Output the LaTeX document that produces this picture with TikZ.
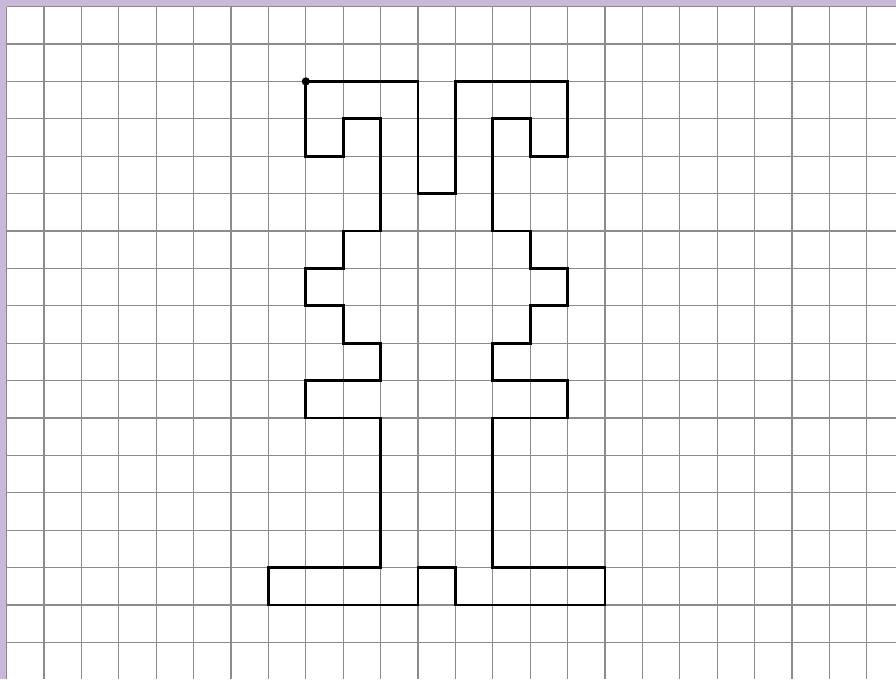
\documentclass[tikz,border=0pt]{standalone}
\definecolor{frame}{HTML}{C8B9D9}
\tikzset{
  gridline/.style={draw=black!45, line width=0.9pt},
  figure/.style={draw=black, line width=2.1pt, line join=miter},
}
\begin{document}
\begin{tikzpicture}[x=1cm,y=-1cm]
  \useasboundingbox (-0.1765,-0.1765) rectangle (23.78,17.978);
  \fill[frame] (-0.1765,-0.1765) rectangle (23.78,17.978);
  \fill[white] (0,0) rectangle (23.78,17.978);
  \foreach \i in {0,...,23} \draw[gridline] (\i,0) -- (\i,17.978);
  \foreach \j in {0,...,17} \draw[gridline] (0,\j) -- (23.78,\j);
  \coordinate (start) at (8,2);
  \draw[figure] (start) -- (11,2) -- (11,5) -- (12,5) -- (12,2) -- (15,2) -- (15,4) -- (14,4) -- (14,3) -- (13,3)
    -- (13,6) -- (14,6) -- (14,7) -- (15,7) -- (15,8) -- (14,8) -- (14,9) -- (13,9) -- (13,10) -- (15,10)
    -- (15,11) -- (13,11) -- (13,15) -- (16,15) -- (16,16) -- (12,16) -- (12,15) -- (11,15) -- (11,16)
    -- (7,16) -- (7,15) -- (10,15) -- (10,11) -- (8,11) -- (8,10) -- (10,10) -- (10,9) -- (9,9) -- (9,8)
    -- (8,8) -- (8,7) -- (9,7) -- (9,6) -- (10,6) -- (10,3) -- (9,3) -- (9,4) -- (8,4) -- cycle;
  \fill[black] (start) circle (0.11);
\end{tikzpicture}
\end{document}
